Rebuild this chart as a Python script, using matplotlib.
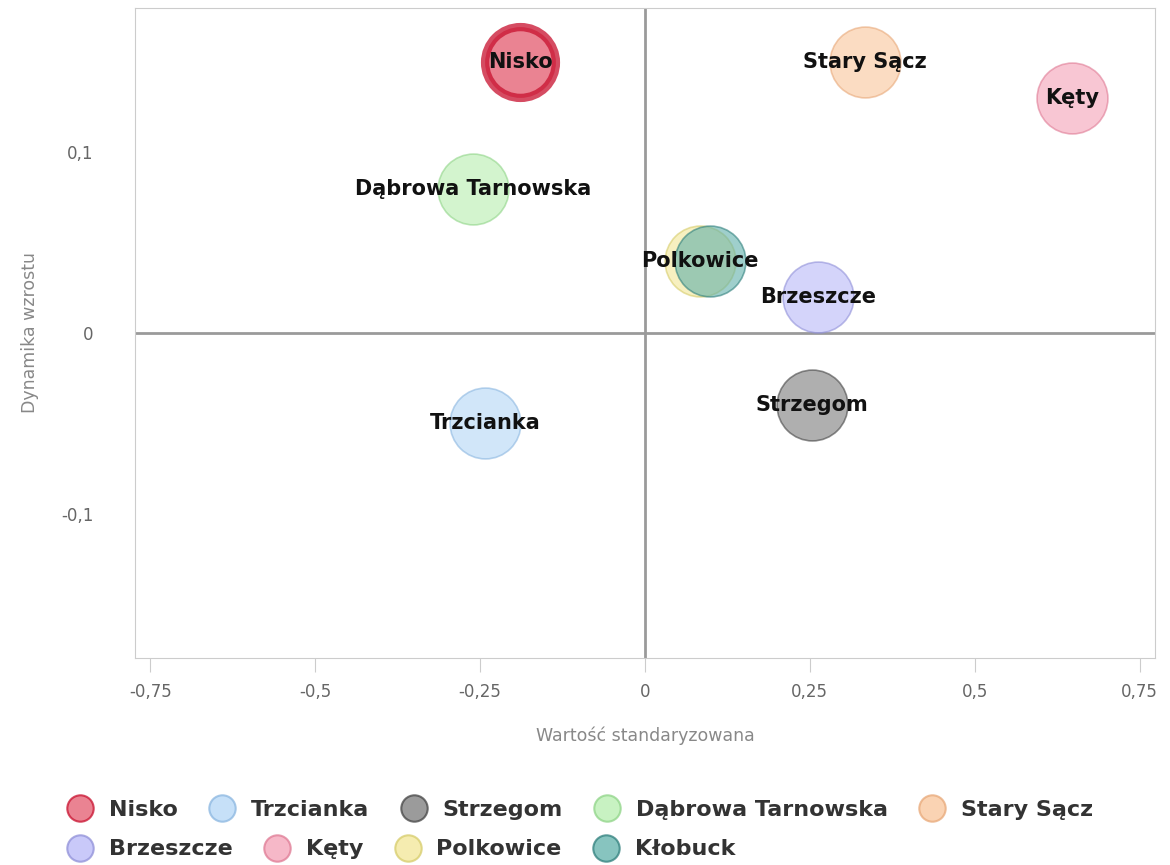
import matplotlib.pyplot as plt
from matplotlib.lines import Line2D

# dane
names = ["Nisko", "Trzcianka", "Strzegom", "Dąbrowa Tarnowska", "Stary Sącz",
         "Brzeszcze", "Kęty", "Polkowice", "Kłobuck"]
x_vals = [-0.189, -0.242, 0.253, -0.26, 0.333, 0.262, 0.647, 0.083, 0.098]
y_vals = [0.15, -0.05, -0.04, 0.08, 0.15, 0.02, 0.13, 0.04, 0.04]
fills = ["#e35a6e", "#b3d6f6", "#7a7a7a", "#b6eeae", "#f9c59a",
         "#b8b8f7", "#f4a0b6", "#f2e696", "#5fb0aa"]
edges = ["#c8102e", "#8ab6e0", "#444444", "#8fd487", "#e8a878",
         "#8f8fd8", "#df7a94", "#d6cc6a", "#2f7f7c"]
# etykieta Kłobuck zasłonięta przez Polkowice - na oryginale jej nie widać
show_label = [True, True, True, True, True, True, True, True, False]
x_ticks = [-0.75, -0.5, -0.25, 0, 0.25, 0.5, 0.75]
x_tick_labels = ["-0,75", "-0,5", "-0,25", "0", "0,25", "0,5", "0,75"]
y_ticks = [-0.1, 0, 0.1]
y_tick_labels = ["-0,1", "0", "0,1"]

fig = plt.figure(figsize=(11.7, 8.65), dpi=100)
ax = fig.add_axes([0.1154, 0.2393, 0.8716, 0.7515])

ax.axhline(0, color="#9a9a9a", lw=2, zorder=1)
ax.axvline(0, color="#9a9a9a", lw=2, zorder=1)

for i, n in enumerate(names):
    lw = 6 if n == "Nisko" else 1.2
    alpha = 0.75 if n == "Nisko" else 0.6
    ax.scatter(x_vals[i], y_vals[i], s=2600, color=fills[i], alpha=alpha,
               edgecolors=edges[i], linewidths=lw, zorder=2)
    if show_label[i]:
        ax.text(x_vals[i], y_vals[i], n, ha="center", va="center", fontsize=15,
                fontweight="bold", color="#111111", zorder=3)

ax.set_xlim(-0.773, 0.773)
ax.set_ylim(-0.18, 0.18)
ax.set_xticks(x_ticks)
ax.set_xticklabels(x_tick_labels)
ax.set_yticks(y_ticks)
ax.set_yticklabels(y_tick_labels)
ax.tick_params(axis="x", length=10, color="#cccccc", colors="#666666", labelsize=12, pad=8)
ax.tick_params(axis="y", length=0, colors="#666666", labelsize=12, pad=30)
for sp in ax.spines.values():
    sp.set_color("#cccccc")
ax.set_xlabel("Wartość standaryzowana", color="#888888", fontsize=12.5, labelpad=18)
ax.set_ylabel("Dynamika wzrostu", color="#888888", fontsize=12.5, labelpad=16)

# legenda w dwoch wierszach
def handle(i):
    return Line2D([], [], marker="o", ls="", markersize=19, markerfacecolor=fills[i],
                  markeredgecolor=edges[i], alpha=0.75, markeredgewidth=1.5)

rows = [[0, 1, 2, 3, 4], [5, 6, 7, 8]]
for r, idx in enumerate(rows):
    fig.legend([handle(i) for i in idx], [names[i] for i in idx], ncol=len(idx),
               loc="center left", bbox_to_anchor=(0.052, 0.064 - r * 0.046),
               frameon=False, prop={"weight": "bold", "size": 16},
               labelcolor="#333333", handletextpad=0.85, columnspacing=1.55,
               handlelength=0.9, borderaxespad=0)

fig.savefig("out.png", dpi=100)
